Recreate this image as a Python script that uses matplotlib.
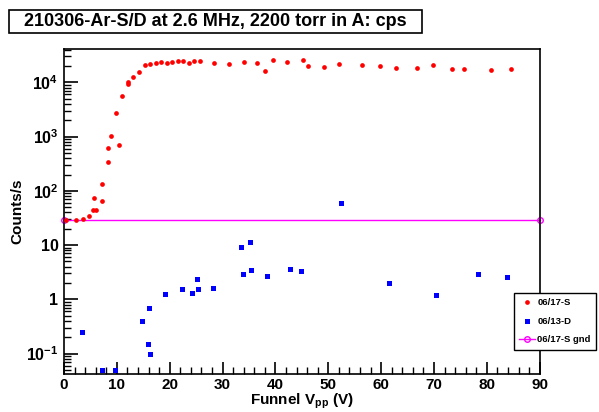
import matplotlib
matplotlib.use("Agg")
import matplotlib.pyplot as plt
from matplotlib.patches import Rectangle
from matplotlib.lines import Line2D
from matplotlib.ticker import FixedLocator, FixedFormatter, MultipleLocator
import numpy as np

plt.rcParams['font.family'] = ['Liberation Sans', 'DejaVu Sans']
plt.rcParams['font.weight'] = 'bold'
plt.rcParams['mathtext.fontset'] = 'custom'
plt.rcParams['mathtext.rm'] = 'Liberation Sans:bold'
plt.rcParams['mathtext.bf'] = 'Liberation Sans:bold'
plt.rcParams['mathtext.it'] = 'Liberation Sans:bold'

# 06/17-S (red circles)
s_x = [0.3, 2.3, 3.6, 4.8, 5.4, 6.1, 5.7, 7.25, 7.25, 8.27, 8.27, 8.83, 10.4, 9.9,
       11.0, 12.05, 12.1, 13.1, 14.2, 15.3, 16.3, 17.4, 18.4, 19.4, 20.4, 21.5,
       22.5, 23.6, 24.65, 25.8, 28.4, 31.2, 34.0, 36.5, 38.0, 39.5, 42.2, 45.2,
       46.2, 49.1, 52.0, 56.3, 59.7, 62.9, 66.7, 69.9, 73.4, 75.7, 80.8, 84.6]
s_y = [28.5, 29, 30.6, 35, 43.6, 43.6, 73.6, 66, 136, 336, 628, 1030, 714, 2710,
       5510, 9190, 10000, 12500, 15300, 20600, 21500, 23000, 23500, 23000, 23500, 24400,
       24400, 23000, 25000, 24400, 22400, 21800, 24000, 23000, 16000, 25500, 23500, 25500,
       20000, 19400, 21500, 20600, 19900, 18600, 18600, 20600, 17400, 17900, 17100, 17900]

# 06/13-D (blue squares)
d_x = [3.47, 7.1, 9.7, 14.8, 15.8, 16.2, 16.1, 19.2, 22.3, 24.2, 25.1, 25.3, 28.2,
       33.55, 35.25, 33.8, 35.4, 38.5, 42.7, 44.8, 52.5, 61.5, 70.3, 78.3, 83.8]
d_y = [0.25, 0.05, 0.05, 0.4, 0.15, 0.1, 0.70, 1.26, 1.56, 1.31, 2.35, 1.56, 1.6,
       9.3, 11.2, 2.98, 3.54, 2.74, 3.59, 3.35, 58.7, 2.01, 1.2, 2.9, 2.6]

# 06/17-S gnd (magenta line)
g_x = [0, 90]
g_y = [28.9, 28.9]

y_ticks = [0.1, 1, 10, 100, 1000, 10000]
y_labels = [r'$\mathbf{10^{-1}}$', '1', '10', r'$\mathbf{10^{2}}$', r'$\mathbf{10^{3}}$', r'$\mathbf{10^{4}}$']
x_ticks = [0, 10, 20, 30, 40, 50, 60, 70, 80, 90]

W, H = 599, 412
fig = plt.figure(figsize=(W / 100, H / 100), dpi=100)
ax = fig.add_axes([64 / W, 1 - 374 / H, (539.7 - 64) / W, (374 - 49.3) / H])

ax.plot(s_x, s_y, 'o', color='#ff0000', markersize=3.4, markeredgewidth=0, label='06/17-S', zorder=3)
ax.plot(d_x, d_y, 's', color='#0000ff', markersize=3.6, markeredgewidth=0, label='06/13-D', zorder=3)
ax.plot(g_x, g_y, '-o', color='#ff00ff', lw=1.0, markersize=4, markerfacecolor='none',
        markeredgewidth=1.0, label='06/17-S gnd', zorder=2, clip_on=False)

ax.set_yscale('log')
ax.set_xlim(0, 90)
ax.set_ylim(0.042, 40700)

ax.yaxis.set_major_locator(FixedLocator(y_ticks))
ax.yaxis.set_major_formatter(FixedFormatter(y_labels))
minors = [m * 10.0 ** e for e in range(-2, 5) for m in range(2, 10)]
ax.yaxis.set_minor_locator(FixedLocator(minors))
ax.yaxis.set_minor_formatter(FixedFormatter([''] * len(minors)))
ax.xaxis.set_major_locator(FixedLocator(x_ticks))
ax.xaxis.set_minor_locator(MultipleLocator(2))

ax.tick_params(axis='both', which='both', direction='in', top=False, right=False)
ax.tick_params(axis='y', which='major', length=10, width=1.2, labelsize=11.5, pad=4)
ax.tick_params(axis='y', which='minor', length=5, width=1.0)
ax.tick_params(axis='x', which='major', length=9, width=1.2, labelsize=11, pad=3)
ax.tick_params(axis='x', which='minor', length=5, width=1.0)
for lab in ax.get_xticklabels() + ax.get_yticklabels():
    lab.set_fontweight('bold')

for sp in ax.spines.values():
    sp.set_linewidth(1.2)
    sp.set_color('black')

ax.set_ylabel('Counts/s', fontsize=11, fontweight='bold', labelpad=1)
ax.set_xlabel(r'Funnel V$_{\mathbf{pp}}$ (V)', fontsize=11, fontweight='bold', labelpad=0)

# Title box
fig.patches.append(Rectangle((9 / W, 1 - 33 / H), (422 - 9) / W, (33 - 10) / H,
                             transform=fig.transFigure, facecolor='white',
                             edgecolor='black', lw=1.2, zorder=5))
fig.text((9 + 422) / 2 / W, 1 - 21.5 / H, '210306-Ar-S/D at 2.6 MHz, 2200 torr in A: cps',
         ha='center', va='center', fontsize=13, fontweight='bold', zorder=6)

# Legend
handles = [
    Line2D([], [], marker='o', ls='none', color='#ff0000', markersize=3.4, markeredgewidth=0),
    Line2D([], [], marker='s', ls='none', color='#0000ff', markersize=3.6, markeredgewidth=0),
    Line2D([], [], marker='o', ls='-', color='#ff00ff', lw=1.0, markersize=4,
           markerfacecolor='none', markeredgewidth=1.0),
]
leg = fig.legend(handles, ['06/17-S', '06/13-D', '06/17-S gnd'],
                 loc='upper left', bbox_to_anchor=(514.3 / W, 1 - 293.3 / H),
                 frameon=True, fancybox=False, framealpha=1, edgecolor='black',
                 prop={'weight': 'bold', 'size': 6.8}, handlelength=1.6,
                 handletextpad=0.3, borderpad=0.55, labelspacing=1.0,
                 borderaxespad=0)
leg.get_frame().set_linewidth(1.0)
leg._legend_box.sep = 0
leg.set_in_layout(False)

fig.savefig('out.png', dpi=100)
